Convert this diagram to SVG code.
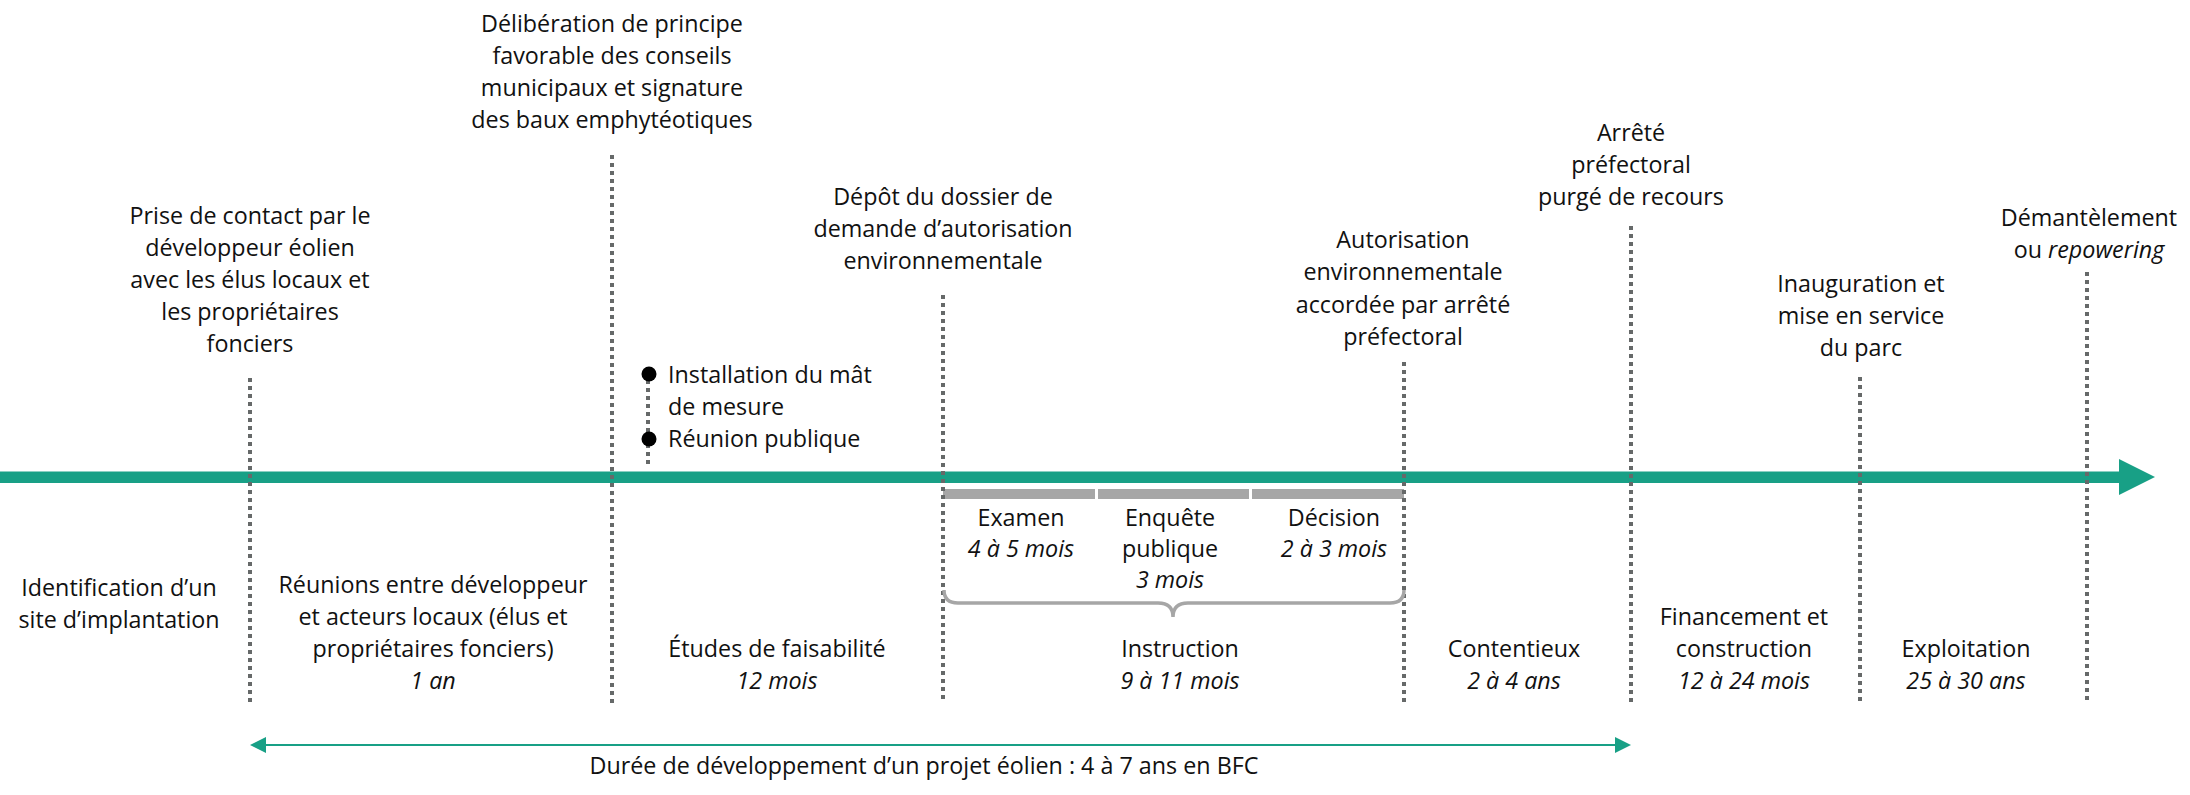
<svg xmlns="http://www.w3.org/2000/svg" width="2190" height="795" viewBox="0 0 2190 795">
<style>
text{font-family:"Open Sans","Liberation Sans",sans-serif;font-size:23.3px;fill:#111;text-anchor:middle}
.it{font-style:italic}
.st{text-anchor:start}
.dot{stroke:#666969;stroke-width:4;stroke-dasharray:4 4;fill:none}
.teal{fill:#18a086}
.seg{fill:#a6a6a6}
</style>
<rect width="2190" height="795" fill="#fff"/>
<g id="timeline">
<rect class="teal" x="0" y="471.5" width="2121" height="11.5"/>
<polygon class="teal" points="2119,459 2155,477 2119,495"/>
</g>
<g id="phases-instruction">
<rect class="seg" x="943" y="489" width="152" height="10"/>
<rect class="seg" x="1098" y="489" width="151" height="10"/>
<rect class="seg" x="1252" y="489" width="152" height="10"/>
</g>
<g id="connectors">
<line class="dot" x1="250" y1="378" x2="250" y2="703"/>
<line class="dot" x1="612" y1="155" x2="612" y2="703"/>
<line class="dot" x1="648" y1="380" x2="648" y2="468"/>
<line class="dot" x1="943" y1="295" x2="943" y2="703"/>
<line class="dot" x1="1404" y1="362" x2="1404" y2="703"/>
<line class="dot" x1="1631" y1="226" x2="1631" y2="703"/>
<line class="dot" x1="1860" y1="377" x2="1860" y2="703"/>
<line class="dot" x1="2087" y1="272" x2="2087" y2="703"/>
<path d="M944 590 Q944 603 958 603 L1158 603 Q1173 603 1173 617 Q1173 603 1188 603 L1390 603 Q1404 603 1404 590" fill="none" stroke="#a6a6a6" stroke-width="3.5"/>
<line x1="264" y1="745" x2="1617" y2="745" stroke="#18a086" stroke-width="2"/>
<polygon class="teal" points="250,745 266,737 266,753"/>
<polygon class="teal" points="1631,745 1615,737 1615,753"/>
</g>
<g id="n-prise-contact">
<text x="250" y="224">Prise de contact par le</text>
<text x="250" y="256">développeur éolien</text>
<text x="250" y="288">avec les élus locaux et</text>
<text x="250" y="320">les propriétaires</text>
<text x="250" y="352">fonciers</text>
</g>
<g id="n-deliberation">
<text x="612" y="32">Délibération de principe</text>
<text x="612" y="64">favorable des conseils</text>
<text x="612" y="96">municipaux et signature</text>
<text x="612" y="128">des baux emphytéotiques</text>
</g>
<g id="n-mat-reunion">
<circle cx="649" cy="374" r="7.5" fill="#000"/>
<circle cx="649" cy="439" r="7.5" fill="#000"/>
<text class="st" x="668" y="383">Installation du mât</text>
<text class="st" x="668" y="415">de mesure</text>
<text class="st" x="668" y="447">Réunion publique</text>
</g>
<g id="n-depot">
<text x="943" y="205">Dépôt du dossier de</text>
<text x="943" y="237">demande d’autorisation</text>
<text x="943" y="269">environnementale</text>
</g>
<g id="n-autorisation">
<text x="1403" y="248">Autorisation</text>
<text x="1403" y="280">environnementale</text>
<text x="1403" y="313">accordée par arrêté</text>
<text x="1403" y="345">préfectoral</text>
</g>
<g id="n-arrete">
<text x="1631" y="141">Arrêté</text>
<text x="1631" y="173">préfectoral</text>
<text x="1631" y="205">purgé de recours</text>
</g>
<g id="n-inauguration">
<text x="1861" y="292">Inauguration et</text>
<text x="1861" y="324">mise en service</text>
<text x="1861" y="356">du parc</text>
</g>
<g id="n-demantelement">
<text x="2089" y="226">Démantèlement</text>
<text x="2089" y="258">ou <tspan class="it">repowering</tspan></text>
</g>
<g id="n-identification">
<text x="119" y="596">Identification d’un</text>
<text x="119" y="628">site d’implantation</text>
</g>
<g id="n-reunions">
<text x="433" y="593">Réunions entre développeur</text>
<text x="433" y="625">et acteurs locaux (élus et</text>
<text x="433" y="657">propriétaires fonciers)</text>
<text class="it" x="433" y="689">1 an</text>
</g>
<g id="n-etudes">
<text x="777" y="657">Études de faisabilité</text>
<text class="it" x="777" y="689">12 mois</text>
</g>
<g id="n-examen">
<text x="1021" y="526">Examen</text>
<text class="it" x="1021" y="557">4 à 5 mois</text>
</g>
<g id="n-enquete">
<text x="1170" y="526">Enquête</text>
<text x="1170" y="557">publique</text>
<text class="it" x="1170" y="588">3 mois</text>
</g>
<g id="n-decision">
<text x="1334" y="526">Décision</text>
<text class="it" x="1334" y="557">2 à 3 mois</text>
</g>
<g id="n-instruction">
<text x="1180" y="657">Instruction</text>
<text class="it" x="1180" y="689">9 à 11 mois</text>
</g>
<g id="n-contentieux">
<text x="1514" y="657">Contentieux</text>
<text class="it" x="1514" y="689">2 à 4 ans</text>
</g>
<g id="n-financement">
<text x="1744" y="625">Financement et</text>
<text x="1744" y="657">construction</text>
<text class="it" x="1744" y="689">12 à 24 mois</text>
</g>
<g id="n-exploitation">
<text x="1966" y="657">Exploitation</text>
<text class="it" x="1966" y="689">25 à 30 ans</text>
</g>
<g id="n-duree">
<text x="924" y="774">Durée de développement d’un projet éolien : 4 à 7 ans en BFC</text>
</g>
</svg>
